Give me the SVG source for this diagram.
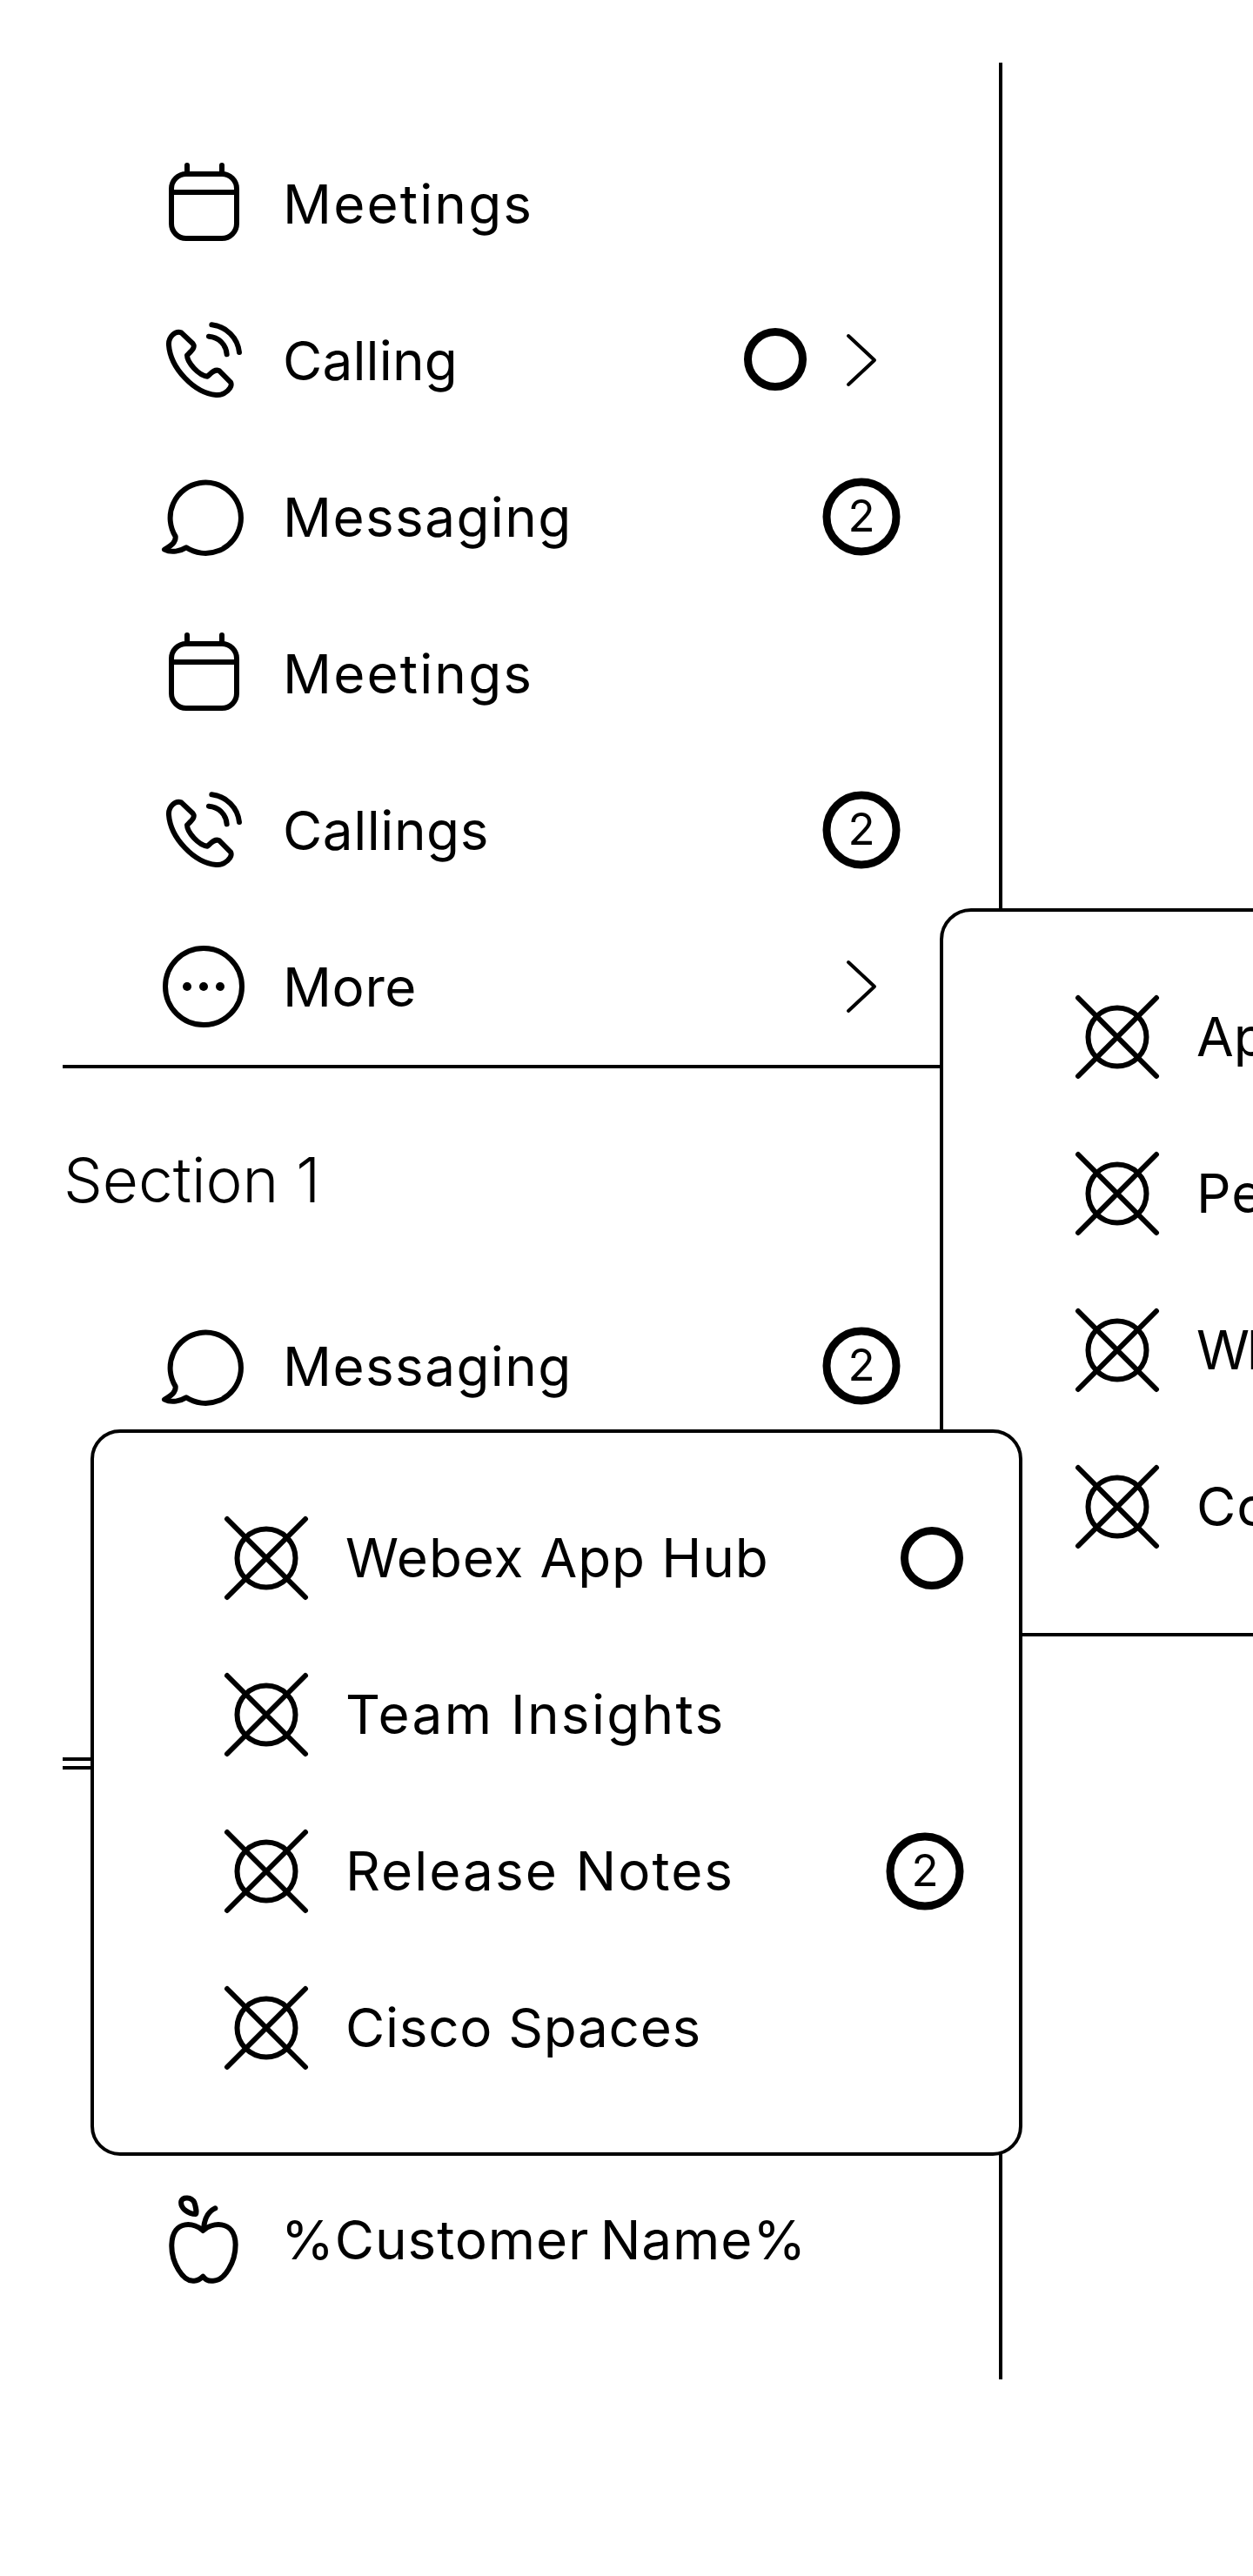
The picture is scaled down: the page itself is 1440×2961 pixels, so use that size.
<svg xmlns="http://www.w3.org/2000/svg" width="1440" height="2961" viewBox="0 0 1440 2961">
<style>
text{font-family:Inter,"Liberation Sans",sans-serif;fill:#000}
.l{font-size:62px;letter-spacing:1.5px;font-weight:440}
.s{font-size:71px;font-weight:340}
.d{font-size:51px;text-anchor:middle}
.w{stroke:#000;stroke-width:4;fill:none}
.p{stroke:#000;stroke-width:4;fill:#fff}
.i{stroke:#000;stroke-width:6;fill:none;stroke-linecap:round;stroke-linejoin:round}
.b{stroke:#000;stroke-width:9;fill:none}
</style>
<defs>
<g id="cal" class="i"><rect x="197" y="200" width="75" height="74" rx="17"/><path d="M197 221H272M215 190V200M255 190V200"/></g>
<g id="phone"><path class="i" transform="translate(170,350) scale(.3333)" style="stroke-width:18" d="M72 140C70 110 95 90 115 97L155 135C165 148 150 160 135 175C135 200 175 245 205 248C215 240 228 222 245 228L285 268C295 285 265 315 235 312C160 305 78 220 72 140ZM220 70C270 75 310 115 315 165M210 110C245 112 270 140 272 172"/></g>
<g id="bub"><path class="i" transform="translate(169,350) scale(.3333)" style="stroke-width:18" d="M98 800A122 122 0 1 1 135 838C115 850 85 858 60 845C75 835 100 825 98 800Z"/></g>
<g id="x" class="i"><circle r="33.5"/><path d="M-45 -45L45 45M45 -45L-45 45"/></g>
<g id="chev"><path d="M975 386L1005 414L975 442" stroke="#000" stroke-width="4" fill="none" stroke-linecap="round" stroke-linejoin="round"/></g>
</defs>
<rect width="1440" height="2961" fill="#fff"/>
<g id="connectors">
<path class="w" d="M1150 72V2735"/>
<path class="w" d="M72 1226H1090"/>
<path class="w" d="M72 2022H110M72 2032H110"/>
</g>
<g id="row-meetings-1"><use href="#cal"/><text class="l" x="325" y="257" style="letter-spacing:2.15px">Meetings</text></g>
<g id="row-calling"><use href="#phone"/><text class="l" x="325" y="437" style="letter-spacing:.15px">Calling</text><circle class="b" cx="891" cy="413" r="31.5"/><use href="#chev"/></g>
<g id="row-messaging-1"><use href="#bub"/><text class="l" x="325" y="617" style="letter-spacing:1.4px">Messaging</text><circle class="b" cx="990" cy="594" r="40"/><text class="d" x="990" y="611">2</text></g>
<g id="row-meetings-2"><use href="#cal" y="540"/><text class="l" x="325" y="797" style="letter-spacing:2.15px">Meetings</text></g>
<g id="row-callings"><use href="#phone" y="540"/><text class="l" x="325" y="977" style="letter-spacing:.55px">Callings</text><circle class="b" cx="990" cy="954" r="40"/><text class="d" x="990" y="971">2</text></g>
<g id="row-more"><g class="i"><circle cx="234" cy="1134" r="44"/></g><circle cx="215" cy="1134" r="5"/><circle cx="234" cy="1134" r="5"/><circle cx="253" cy="1134" r="5"/><text class="l" x="325" y="1157" style="letter-spacing:.6px">More</text><use href="#chev" y="720"/></g>
<text id="section-1" class="s" x="73" y="1382">Section 1</text>
<g id="row-messaging-2"><use href="#bub" y="977"/><text class="l" x="325" y="1593" style="letter-spacing:1.4px">Messaging</text><circle class="b" cx="990" cy="1570" r="40"/><text class="d" x="990" y="1587">2</text></g>
<g id="row-customer"><path class="i" transform="translate(170,2500) scale(.3333)" style="stroke-width:18" d="M190 192C165 165 85 150 82 240C80 300 120 370 160 365C175 365 185 355 190 350C197 358 205 368 225 365C265 365 302 300 302 240C300 150 215 165 190 192ZM192 185C195 150 210 125 232 115M115 90C120 75 150 75 160 95C165 110 168 130 165 135C140 135 110 115 115 90Z"/><text class="l" x="323" y="2597" style="letter-spacing:.9px;word-spacing:-6px">%Customer Name%</text></g>
<g id="popover-2">
<path class="p" d="M1442 1046H1116A34 34 0 0 0 1082 1080V1845A34 34 0 0 0 1116 1879H1442"/>
<use href="#x" x="1284" y="1192"/><text class="l" x="1375" y="1214" style="letter-spacing:0">Ap</text>
<use href="#x" x="1284" y="1372"/><text class="l" x="1375" y="1394" style="letter-spacing:1px">Pe</text>
<use href="#x" x="1284" y="1552"/><text class="l" x="1375" y="1574" style="letter-spacing:-3px">Wh</text>
<use href="#x" x="1284" y="1732"/><text class="l" x="1375" y="1754" style="letter-spacing:1px">Co</text>
</g>
<g id="popover-1">
<rect class="p" x="106" y="1645" width="1067" height="831" rx="32"/>
<use href="#x" x="306" y="1791"/><text class="l" x="397" y="1813" style="letter-spacing:.9px">Webex App Hub</text><circle class="b" cx="1071" cy="1791" r="31.5"/>
<use href="#x" x="306" y="1971"/><text class="l" x="397" y="1993" style="letter-spacing:2.3px">Team Insights</text>
<use href="#x" x="306" y="2151"/><text class="l" x="397" y="2173" style="letter-spacing:2.05px">Release Notes</text><circle class="b" cx="1063" cy="2151" r="40"/><text class="d" x="1063" y="2168">2</text>
<use href="#x" x="306" y="2331"/><text class="l" x="397" y="2353" style="letter-spacing:.7px">Cisco Spaces</text>
</g>
</svg>
